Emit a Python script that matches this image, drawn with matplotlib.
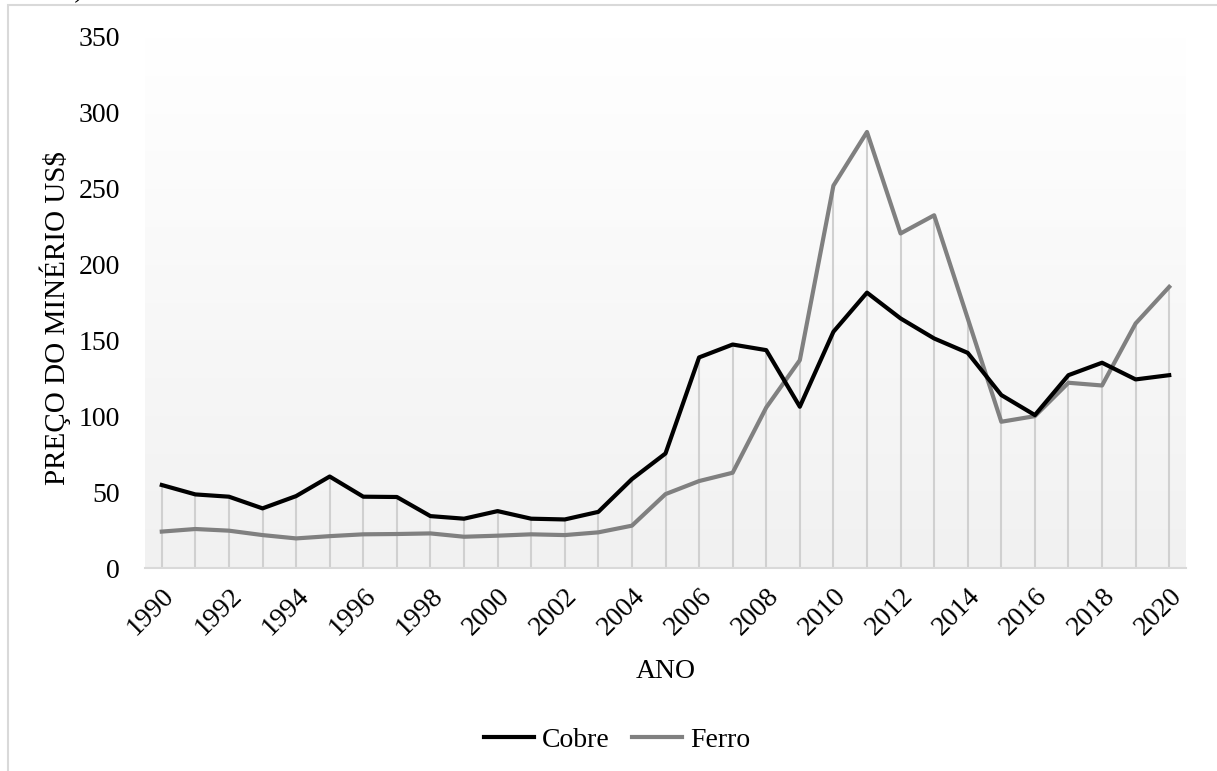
import matplotlib
matplotlib.use("Agg")
import matplotlib.pyplot as plt
import numpy as np
from matplotlib.patches import Rectangle
from matplotlib.colors import LinearSegmentedColormap

plt.rcParams['font.family'] = ['Liberation Serif', 'DejaVu Serif']

anos = list(range(1990, 2021))
cobre = [54.7, 48.5, 47.0, 39.3, 47.4, 60.3, 47.0, 46.8, 34.2, 32.5,
         37.5, 32.5, 32.0, 37.0, 58.6, 75.5, 138.8, 147.3, 143.6, 106.3,
         155.7, 181.5, 164.5, 151.3, 141.8, 114.0, 100.8, 127.1, 135.3, 124.3,
         127.1]
ferro = [24.0, 25.7, 24.6, 21.7, 19.5, 21.0, 22.2, 22.4, 22.8, 20.6,
         21.3, 22.2, 21.7, 23.5, 27.9, 48.7, 57.3, 62.8, 105.8, 137.0,
         252.0, 287.4, 220.5, 232.5, 164.5, 96.4, 100.1, 122.1, 120.3, 161.2,
         185.3]
yticks = [0, 50, 100, 150, 200, 250, 300, 350]
xticks = list(range(1990, 2021, 2))

W, H = 1217, 771
fs = 20
fig = plt.figure(figsize=(W / 100, H / 100), dpi=100)
ax = fig.add_axes([145 / W, 1 - 568 / H, (1186 - 145) / W, (568 - 37) / H])

# plot area gradient, white on top to light grey at bottom
cmap = LinearSegmentedColormap.from_list('bg', ['#f1f1f1', '#ffffff'])
ax.imshow(np.linspace(0, 1, 256).reshape(-1, 1), cmap=cmap, aspect='auto',
          extent=[1989.5, 2020.5, 0, 350], origin='lower', zorder=0)

# drop lines
topo = np.maximum(cobre, ferro)
ax.vlines(anos, 0, topo, color='#d0d0d0', lw=1.5, zorder=1)

ax.plot(anos, cobre, color='black', lw=3, label='Cobre', zorder=3,
        solid_joinstyle='round')
ax.plot(anos, ferro, color='#808080', lw=3, label='Ferro', zorder=2,
        solid_joinstyle='round')

ax.set_xlim(1989.5, 2020.5)
ax.set_ylim(0, 350)
ax.set_yticks(yticks)
ax.set_xticks(xticks)
ax.set_xticklabels([str(x) for x in xticks], rotation=45, ha='right',
                   rotation_mode='anchor')
ax.tick_params(axis='both', length=0, labelsize=fs)
ax.tick_params(axis='y', pad=18)
ax.tick_params(axis='x', pad=11)

for s in ['top', 'left', 'right']:
    ax.spines[s].set_visible(False)
ax.spines['bottom'].set_color('#d9d9d9')
ax.spines['bottom'].set_linewidth(1.5)
ax.spines['bottom'].set_zorder(4)

fig.text(55 / W, 1 - 318 / H, 'PREÇO DO MINÉRIO US$', rotation=90,
         ha='center', va='center', fontsize=fs + 1)
fig.text(666 / W, 1 - 671 / H, 'ANO', ha='center', va='center', fontsize=fs)

fig.legend(loc='center', bbox_to_anchor=(617 / W, 1 - 740 / H), ncol=2,
           frameon=False, fontsize=fs, handlelength=1.8, handletextpad=0.3,
           columnspacing=0.8)

# outer frame of chart
fig.patches.append(Rectangle((8 / W, -0.05), 1.2, 1 - 5 / H + 0.05,
                             transform=fig.transFigure, fill=False,
                             edgecolor='#d9d9d9', lw=1.5))
fig.text(62 / W, 1 + 3 / H, 'a)', ha='left', va='baseline', fontsize=fs)

fig.savefig('out.png', dpi=100)
